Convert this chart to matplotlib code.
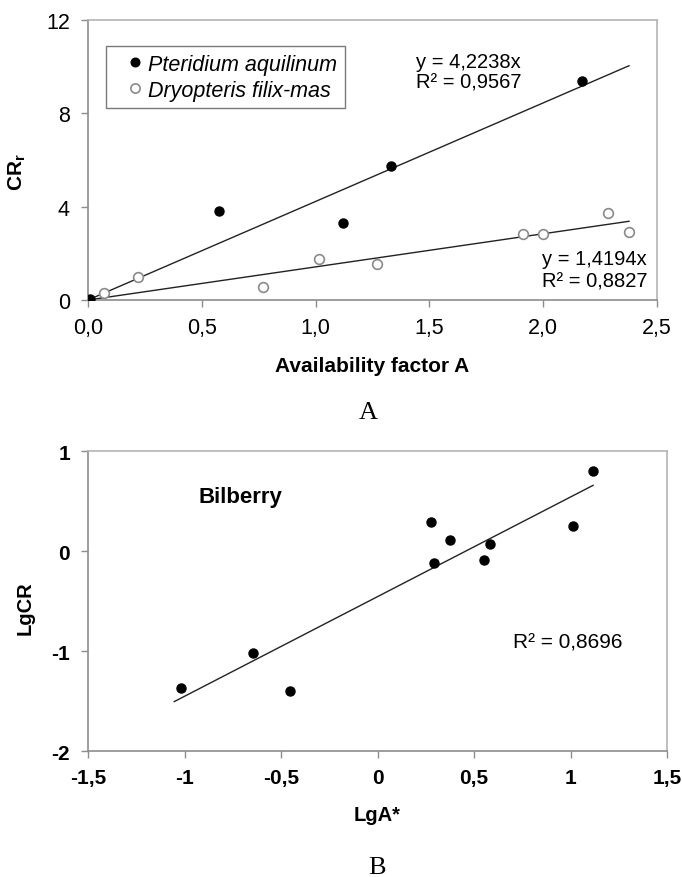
import numpy as np
import matplotlib
matplotlib.use("Agg")
import matplotlib.pyplot as plt
from matplotlib.ticker import FuncFormatter

plt.rcParams['font.family'] = ['Liberation Sans', 'DejaVu Sans']
plt.rcParams['axes.unicode_minus'] = False
plt.rcParams['mathtext.fontset'] = 'custom'
plt.rcParams['mathtext.rm'] = 'Liberation Sans'
plt.rcParams['mathtext.bf'] = 'Liberation Sans:bold'

# panel A: availability factor vs CR_r
pter_x = [0.0, 0.01, 0.574, 1.122, 1.333, 2.17]
pter_y = [0.0, 0.03, 3.81, 3.29, 5.73, 9.39]
dryo_x = [0.07, 0.22, 0.771, 1.013, 1.268, 1.91, 2.0, 2.285, 2.377]
dryo_y = [0.28, 1.0, 0.56, 1.74, 1.55, 2.85, 2.85, 3.75, 2.9]
pter_slope = 4.2238
dryo_slope = 1.4194
pter_r2 = "0,9567"
dryo_r2 = "0,8827"

# panel B: bilberry log-log
lga = [-1.018, -0.646, -0.453, 0.275, 0.291, 0.376, 0.552, 0.583, 1.013, 1.117]
lgcr = [-1.37, -1.017, -1.40, 0.29, -0.123, 0.107, -0.09, 0.07, 0.253, 0.797]
bil_r2 = "0,8696"

SPINE = '#8c8c8c'
SPINE_LT = '#b4b4b4'


def style_axes(ax):
    for s in ['left', 'bottom']:
        ax.spines[s].set_color(SPINE)
        ax.spines[s].set_linewidth(1.2)
    for s in ['top', 'right']:
        ax.spines[s].set_color(SPINE_LT)
        ax.spines[s].set_linewidth(1.2)
    ax.tick_params(direction='out', length=5, width=1, color=SPINE)
    ax.tick_params(axis='x', pad=7)
    ax.tick_params(axis='y', pad=8)


fig = plt.figure(figsize=(6.82, 8.78), dpi=100)

# ======== A ========
ax1 = fig.add_axes([88/682, 1 - 301/878, 569/682, 280/878])
style_axes(ax1)
xa = np.array(pter_x)
xd = np.array(dryo_x)
xl = np.array([0.0, xd.max()])
ax1.plot(xl, pter_slope * xl, color='#222222', lw=1.0, zorder=2)
ax1.plot(xl, dryo_slope * xl, color='#222222', lw=1.0, zorder=2)
ax1.plot(xd, dryo_y, 'o', ms=7, mfc='white', mec='#8a8a8a', mew=1.2,
         label='Dryopteris filix-mas', zorder=3)
ax1.plot(xa, pter_y, 'o', ms=6.5, mfc='black', mec='black',
         label='Pteridium aquilinum', zorder=4)
ax1.set_xlim(0, 2.5)
ax1.set_ylim(0, 12)
ax1.set_xticks(np.arange(0, 2.51, 0.5))
ax1.set_yticks([0, 4, 8, 12])
ax1.xaxis.set_major_formatter(FuncFormatter(lambda v, p: f'{v:.1f}'.replace('.', ',')))
ax1.yaxis.set_major_formatter(FuncFormatter(lambda v, p: f'{v:g}'))
ax1.tick_params(labelsize=15.5)
ax1.set_xlabel('Availability factor A', fontsize=15, fontweight='bold', labelpad=13)
ax1.set_ylabel(r'$\mathbf{CR_r}$', fontsize=15)
ax1.yaxis.set_label_coords(-0.105, 0.46)

h, l = ax1.get_legend_handles_labels()
leg = ax1.legend(h[::-1], l[::-1], loc='upper left', bbox_to_anchor=(0.032, 0.907),
                 borderaxespad=0, fancybox=False, framealpha=1, edgecolor='#7a7a7a',
                 prop={'style': 'italic', 'size': 15.5}, handletextpad=-0.4,
                 handlelength=2.0, markerscale=0.95, borderpad=0.35, labelspacing=0.25)
leg.get_frame().set_linewidth(1.0)

ax1.text(1.441, 10.2, f'y = {pter_slope:.4f}x'.replace('.', ','), fontsize=14.5,
         va='center', ha='left')
ax1.text(1.441, 9.34, f'R² = {pter_r2}', fontsize=14.5, va='center', ha='left')
ax1.text(1.995, 1.76, f'y = {dryo_slope:.4f}x'.replace('.', ','), fontsize=14.5,
         va='center', ha='left')
ax1.text(1.995, 0.81, f'R² = {dryo_r2}', fontsize=14.5, va='center', ha='left')

fig.text(368/682, 1 - 413/878, 'A', fontsize=19, family='Liberation Serif',
         ha='center', va='center')

# ======== B ========
ax2 = fig.add_axes([88/682, 1 - 752/878, 579/682, 300/878])
style_axes(ax2)
bx = np.array(lga)
by = np.array(lgcr)
k, b = np.polyfit(bx, by, 1)
bl = np.array([bx.min() - 0.035, bx.max()])
ax2.plot(bl, k * bl + b, color='#222222', lw=1.0, zorder=2)
ax2.plot(bx, by, 'o', ms=6.5, mfc='black', mec='black', zorder=3)
ax2.set_xlim(-1.5, 1.5)
ax2.set_ylim(-2, 1)
ax2.set_xticks(np.arange(-1.5, 1.51, 0.5))
ax2.set_yticks([-2, -1, 0, 1])
fmt = FuncFormatter(lambda v, p: f'{v:g}'.replace('.', ','))
ax2.xaxis.set_major_formatter(fmt)
ax2.yaxis.set_major_formatter(fmt)
ax2.tick_params(labelsize=15)
for t in ax2.get_xticklabels() + ax2.get_yticklabels():
    t.set_fontweight('bold')
ax2.set_xlabel('LgA*', fontsize=14.5, fontweight='bold', labelpad=13)
ax2.set_ylabel('LgCR', fontsize=14.5, fontweight='bold')
ax2.yaxis.set_label_coords(-0.092, 0.48)
ax2.text(-0.93, 0.55, 'Bilberry', fontsize=16, fontweight='bold', va='center', ha='left')
ax2.text(0.70, -0.91, f'R² = {bil_r2}', fontsize=15, va='center', ha='left')

fig.text(377/682, 1 - 868/878, 'B', fontsize=19, family='Liberation Serif',
         ha='center', va='center')

fig.savefig('out.png', dpi=100, facecolor='white')
